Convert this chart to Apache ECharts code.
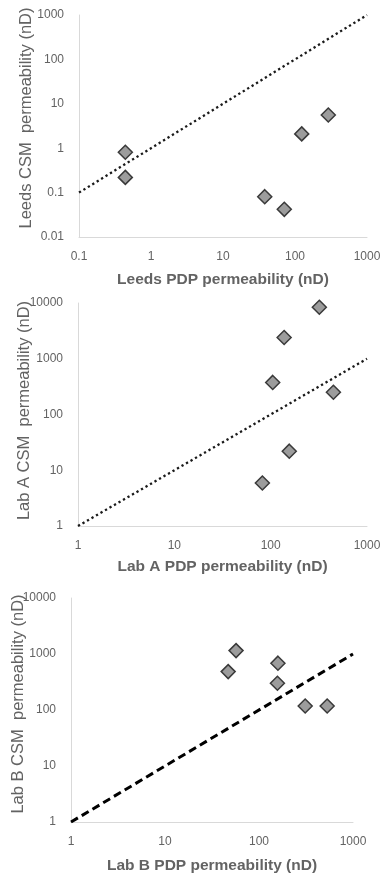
<!DOCTYPE html>
<html><head><meta charset="utf-8">
<script src="https://cdn.jsdelivr.net/npm/echarts@6/dist/echarts.min.js"></script>
<style>html,body{margin:0;padding:0;background:#fff}#c{width:382px;height:878px}</style>
</head><body><div id="c"></div>
<script>
// Panel 1: Leeds
const leedsPdp = [0.44, 0.44, 38, 71, 124, 290];
const leedsCsm = [0.81, 0.22, 0.081, 0.042, 2.1, 5.6];
// Panel 2: Lab A
const labAPdp = [320, 138, 105, 448, 156, 82];
const labACsm = [8400, 2400, 376, 251, 22, 5.9];
// Panel 3: Lab B
const labBPdp = [57, 47, 159, 157, 310, 531];
const labBCsm = [1150, 485, 686, 300, 118, 118];
// 1:1 reference lines
const leedsLine = [0.1, 1000];
const labALine = [1, 1000];
const labBLine = [1, 1000];
const xTitles = ['Leeds PDP permeability (nD)', 'Lab A PDP permeability (nD)', 'Lab B PDP permeability (nD)'];
const yTitles = ['Leeds CSM  permeability (nD)', 'Lab A CSM  permeability (nD)', 'Lab B CSM  permeability (nD)'];
const xRanges = [[0.1, 1000], [1, 1000], [1, 1000]];
const yRanges = [[0.01, 1000], [1, 10000], [1, 10000]];

const grids = [
  {left: 79, top: 15, width: 288, height: 222, outerBoundsMode: 'none', containLabel: false},
  {left: 78, top: 303, width: 289, height: 223, outerBoundsMode: 'none', containLabel: false},
  {left: 71, top: 598, width: 282, height: 224, outerBoundsMode: 'none', containLabel: false}
];
const txt = '#636363';
const fmt = v => { if (v >= 1) return String(Math.round(v)); return String(parseFloat(v.toPrecision(3))); };

const xAxis = [], yAxis = [], series = [];
const pts = [[leedsPdp, leedsCsm], [labAPdp, labACsm], [labBPdp, labBCsm]];
const lines = [leedsLine, labALine, labBLine];
const yNameGap = [44, 45, 44];
const yNameShift = [16, 8, 12];
const xNameGap = [35, 33, 36];
for (let i = 0; i < 3; i++) {
  xAxis.push({
    type: 'log', logBase: 10, gridIndex: i, min: xRanges[i][0], max: xRanges[i][1],
    axisLine: {lineStyle: {color: '#d9d9d9', width: 1}}, axisTick: {show: false},
    splitLine: {show: false}, minorSplitLine: {show: false},
    axisLabel: {color: txt, fontFamily: 'Liberation Sans', fontSize: 12, margin: 14, formatter: fmt, showMaxLabel: true},
    name: xTitles[i], nameLocation: 'middle', nameGap: xNameGap[i], nameMoveOverlap: false,
    nameTextStyle: {color: txt, fontFamily: 'Liberation Sans', fontWeight: 'bold', fontSize: 15.5}
  });
  yAxis.push({
    type: 'log', logBase: 10, gridIndex: i, min: yRanges[i][0], max: yRanges[i][1],
    axisLine: {show: true, lineStyle: {color: '#d9d9d9', width: 1}}, axisTick: {show: false},
    splitLine: {show: false},
    axisLabel: {color: txt, fontFamily: 'Liberation Sans', fontSize: 12, margin: 15, formatter: fmt, showMaxLabel: true},
    name: yTitles[i], nameLocation: 'middle', nameGap: yNameGap[i], nameMoveOverlap: false,
    nameTextStyle: {color: txt, fontFamily: 'Liberation Sans', fontSize: 16.5, padding: [0, 0, 0, yNameShift[i]]}
  });
  series.push({
    type: 'line', xAxisIndex: i, yAxisIndex: i, symbol: 'none', silent: true,
    data: lines[i].map(v => [v, v]),
    lineStyle: i === 2 ? {color: '#000', width: 3, type: [8, 4.5]} : {color: '#1a1a1a', width: 2.3, type: [2.3, 2.9]}
  });
  series.push({
    type: 'scatter', xAxisIndex: i, yAxisIndex: i, symbol: 'diamond', symbolSize: 14,
    itemStyle: {color: '#9c9c9c', borderColor: '#3a3a3a', borderWidth: 1.5, opacity: 1},
    data: pts[i][0].map((x, k) => [x, pts[i][1][k]])
  });
}
const chart = echarts.init(document.getElementById('c'));
chart.setOption({animation: false, grid: grids, xAxis, yAxis, series});
</script></body></html>
